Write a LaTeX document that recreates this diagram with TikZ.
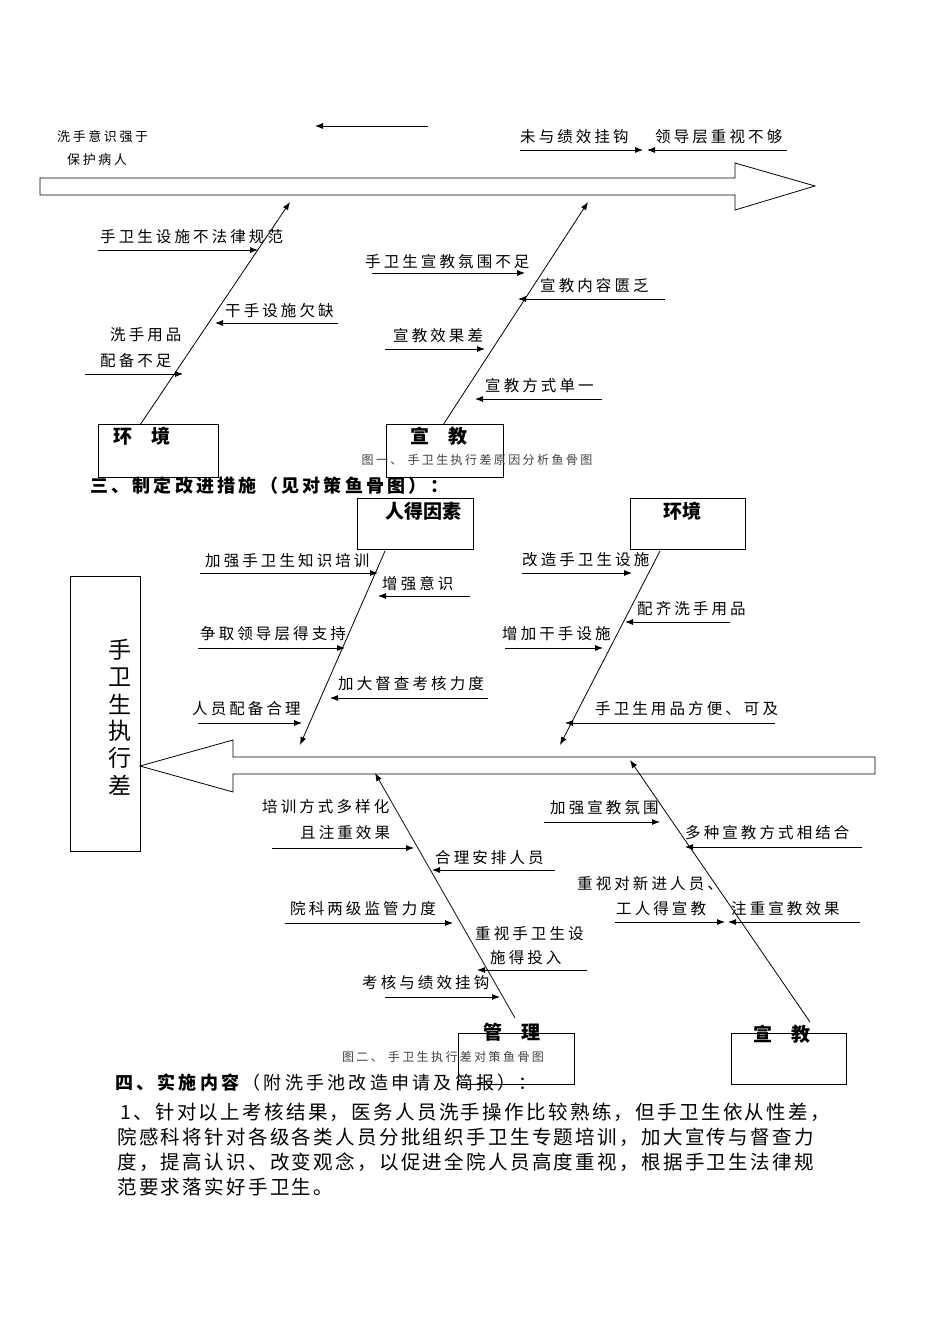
\documentclass[tikz,border=0pt]{standalone}
\usepackage{fontspec}
\setmainfont{Noto Sans CJK SC}
\newfontfamily\lab[LetterSpace=20]{Noto Sans CJK SC}
\newfontfamily\bodyf[LetterSpace=12]{Noto Sans CJK SC}
\newfontfamily\headf[LetterSpace=18]{Noto Sans CJK SC}
\usetikzlibrary{arrows.meta}
\begin{document}
\begin{tikzpicture}[x=1pt,y=-1pt,
  ln/.style={line width=0.8pt},
  ar/.style={line width=0.8pt,-{Latex[length=8,width=6]}},
  t/.style={anchor=west,inner sep=0,font=\lab\fontsize{15.5}{17}\selectfont},
  ts/.style={anchor=west,inner sep=0,font=\lab\fontsize{13}{15}\selectfont},
  captxt/.style={anchor=center,inner sep=0,font=\lab\fontsize{12}{13}\selectfont,text=black!75},
  bx/.style={draw,line width=0.8pt},
  bt/.style={inner sep=0,font=\bfseries\fontsize{19}{21}\selectfont}]
\useasboundingbox[fill=white] (0,0) rectangle (950,1344);
% ---------- Figure 1 ----------
\draw[ar] (428,126) -- (315,126);
\node[ts] (a1) at (57,137) {洗手意识强于};
\node[ts] (a2) at (67,160) {保护病人};
\node[t] (a3) at (520,137) {未与绩效挂钩};
\draw[ar] (520,150) -- (643,150);
\node[t] (a4) at (655,137) {领导层重视不够};
\draw[ar] (787,150) -- (647,150);
\draw[ln] (40,178) -- (735,178) -- (735,163) -- (815,186) -- (735,210) -- (735,195) -- (40,195) -- cycle;
% left bone
\draw[ar] (140,425) -- (290,202);
\node[t] at (100,237) {手卫生设施不法律规范};
\draw[ar] (98,250) -- (258,250);
\node[t] at (225,311) {干手设施欠缺};
\draw[ar] (338,323) -- (215,323);
\node[t] at (110,335) {洗手用品};
\node[t] at (100,361) {配备不足};
\draw[ar] (85,374) -- (183,374);
\draw[bx] (98,424) rectangle (218,477);
\node[bt] at (142,436) {环\quad 境};
% right bone
\draw[ar] (443,425) -- (588,202);
\node[t] at (365,262) {手卫生宣教氛围不足};
\draw[ar] (372,273) -- (525,273);
\node[t] at (540,286) {宣教内容匮乏};
\draw[ar] (665,299) -- (518,299);
\node[t] at (393,336) {宣教效果差};
\draw[ar] (385,349) -- (485,349);
\node[t] at (485,386) {宣教方式单一};
\draw[ar] (602,399) -- (475,399);
\draw[bx] (386,424) rectangle (503,477);
\node[bt] at (439,436) {宣\quad 教};
\node[captxt] at (477,460) {图一、 手卫生执行差原因分析鱼骨图};
\node[anchor=west,inner sep=0,font=\headf\bfseries\fontsize{18}{20}\selectfont] at (90,486) {三、制定改进措施（见对策鱼骨图）：};
% ---------- Figure 2 ----------
\draw[bx] (357,498) rectangle (473,549);
\node[bt] at (423,511) {人得因素};
\draw[bx] (630,498) rectangle (745,549);
\node[bt] at (682,511) {环境};
\draw[bx] (70,576) rectangle (140,851);
\foreach \c [count=\i from 0] in {手,卫,生,执,行,差}
  \node[inner sep=0,font=\fontsize{23}{24}\selectfont] at (120,650+27*\i) {\c};
\draw[ln] (140,766) -- (233,740) -- (233,757) -- (875,757) -- (875,774) -- (233,774) -- (233,792) -- cycle;
% bone 1
\draw[ar] (385,551) -- (300,745);
\node[t] at (205,561) {加强手卫生知识培训};
\draw[ar] (200,573) -- (378,573);
\node[t] at (382,584) {增强意识};
\draw[ar] (470,596) -- (378,596);
\node[t] at (200,634) {争取领导层得支持};
\draw[ar] (198,648) -- (345,648);
\node[t] at (338,684) {加大督查考核力度};
\draw[ar] (488,698) -- (330,698);
\node[t] at (192,709) {人员配备合理};
\draw[ar] (198,723) -- (302,723);
% bone 2
\draw[ar] (660,551) -- (560,745);
\node[t] at (522,560) {改造手卫生设施};
\draw[ar] (522,573) -- (632,573);
\node[t] at (637,609) {配齐洗手用品};
\draw[ar] (730,622) -- (625,622);
\node[t] at (502,634) {增加干手设施};
\draw[ar] (505,648) -- (603,648);
\node[t] at (595,709) {手卫生用品方便、可及};
\draw[ar] (775,723) -- (565,723);
% bone 3
\draw[ar] (515,1018) -- (375,773);
\node[t] at (262,807) {培训方式多样化};
\node[t] at (300,833) {且注重效果};
\draw[ar] (272,848) -- (414,848);
\node[t] at (435,858) {合理安排人员};
\draw[ar] (555,870) -- (432,870);
\node[t] at (290,909) {院科两级监管力度};
\draw[ar] (285,923) -- (453,923);
\node[t] at (475,934) {重视手卫生设};
\node[t] at (490,958) {施得投入};
\draw[ar] (587,970) -- (477,970);
\node[t] at (362,983) {考核与绩效挂钩};
\draw[ar] (385,997) -- (500,997);
\draw[bx] (458,1033) rectangle (574,1084);
\node[bt] at (512,1032) {管\quad 理};
% bone 4
\draw[ar] (810,1022) -- (630,760);
\node[t] at (550,808) {加强宣教氛围};
\draw[ar] (544,822) -- (660,822);
\node[t] at (685,833) {多种宣教方式相结合};
\draw[ar] (862,847) -- (685,847);
\node[t] at (577,884) {重视对新进人员、};
\node[t] at (616,909) {工人得宣教};
\draw[ar] (615,922) -- (725,922);
\node[t] at (731,909) {注重宣教效果};
\draw[ar] (860,922) -- (728,922);
\draw[bx] (731,1033) rectangle (846,1084);
\node[bt] at (782,1034) {宣\quad 教};
\node[captxt] at (443,1057) {图二、 手卫生执行差对策鱼骨图};
% ---------- Text ----------
\node[anchor=west,inner sep=0,font=\headf\fontsize{18}{20}\selectfont] at (115,1083) {\textbf{四、实施内容}（附洗手池改造申请及简报）：};
\begin{scope}[every node/.style={anchor=west,inner sep=0,font=\bodyf\fontsize{19.5}{21}\selectfont}]
\node at (120,1112) {1、针对以上考核结果，医务人员洗手操作比较熟练，但手卫生依从性差，};
\node at (117,1137) {院感科将针对各级各类人员分批组织手卫生专题培训，加大宣传与督查力};
\node at (117,1162) {度，提高认识、改变观念，以促进全院人员高度重视，根据手卫生法律规};
\node at (117,1187) {范要求落实好手卫生。};
\end{scope}
\end{tikzpicture}
\end{document}
